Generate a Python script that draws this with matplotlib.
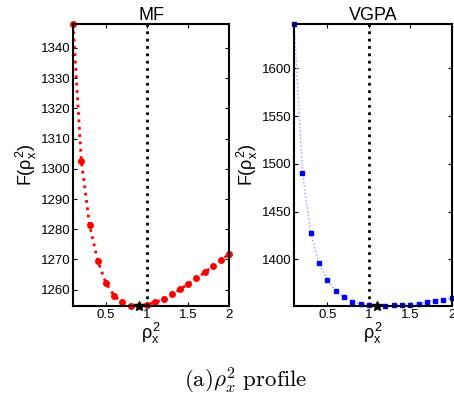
import numpy as np
import matplotlib
matplotlib.use("Agg")
from matplotlib import pyplot as plt

plt.rcParams['font.family'] = ['Liberation Sans', 'DejaVu Sans']
plt.rcParams['mathtext.fontset'] = 'custom'
plt.rcParams['mathtext.rm'] = 'Liberation Sans'
plt.rcParams['mathtext.it'] = 'Liberation Sans'

# rho_x^2 grid
rho = [0.1, 0.2, 0.3, 0.4, 0.5, 0.6, 0.7, 0.8, 0.9, 1.0,
       1.1, 1.2, 1.3, 1.4, 1.5, 1.6, 1.7, 1.8, 1.9, 2.0]

# MF free energy
mf_vals = [1347.9, 1302.7, 1281.5, 1269.5, 1262.2, 1258.0, 1255.8, 1254.7, 1254.6, 1255.1,
           1255.8, 1256.9, 1258.5, 1260.1, 1261.9, 1263.8, 1265.7, 1267.7, 1269.7, 1271.9]
mf_best = (0.9, 1254.6)

# VGPA free energy
vgpa_vals = [1646.4, 1490.8, 1427.2, 1395.8, 1378.4, 1367.2, 1360.6, 1355.7, 1353.2, 1352.2,
             1351.1, 1351.1, 1351.8, 1352.2, 1352.5, 1353.6, 1355.3, 1356.7, 1357.4, 1359.8]
vgpa_best = (1.1, 1351.1)

mf_yticks = [1260, 1270, 1280, 1290, 1300, 1310, 1320, 1330, 1340]
vgpa_yticks = [1400, 1450, 1500, 1550, 1600]
xticks = [0.5, 1, 1.5, 2]
xticklabels = ["0.5", "1", "1.5", "2"]

fig = plt.figure(figsize=(4.54, 3.99), dpi=100)
ax1 = fig.add_axes([0.161, 0.233, 0.344, 0.707])
ax2 = fig.add_axes([0.648, 0.233, 0.347, 0.707])

ax1.plot(rho, mf_vals, ':', color='red', lw=2, marker='o', ms=4, mec='red', mfc='red',
         clip_on=False)
ax1.plot(*mf_best, marker='*', color='black', ms=7, zorder=5, clip_on=False)
ax1.set_ylim(min(mf_vals), max(mf_vals))
ax1.set_yticks(mf_yticks)
ax1.set_title("MF", fontsize=13, pad=3)

ax2.plot(rho, vgpa_vals, ':', color='#9999ff', lw=1, clip_on=False)
ax2.plot(rho, vgpa_vals, 's', color='blue', ms=3.5, clip_on=False)
ax2.plot(*vgpa_best, marker='*', color='black', ms=7, zorder=5, clip_on=False)
ax2.set_ylim(min(vgpa_vals), max(vgpa_vals))
ax2.set_yticks(vgpa_yticks)
ax2.set_title("VGPA", fontsize=13, pad=3)

for ax in (ax1, ax2):
    ax.axvline(1, color='black', ls=':', lw=2)
    ax.set_xlim(0.1, 2)
    ax.set_xticks(xticks)
    ax.set_xticklabels(xticklabels)
    ax.tick_params(direction='in', top=True, right=True, labelsize=9.5, length=3, pad=2)
    for s in ax.spines.values():
        s.set_linewidth(1.5)
        s.set_zorder(6)
    ax.set_xlabel(r"$\rho_x^2$", fontsize=13, labelpad=0)
    ax.set_ylabel(r"F($\rho_x^2$)", fontsize=13, labelpad=1)

fig.text(0.542, 0.03, r"$\mathrm{(a)}\rho_x^2\ \mathrm{profile}$", ha='center', fontsize=16.5,
         math_fontfamily='cm')

fig.savefig("out.png", dpi=100)
